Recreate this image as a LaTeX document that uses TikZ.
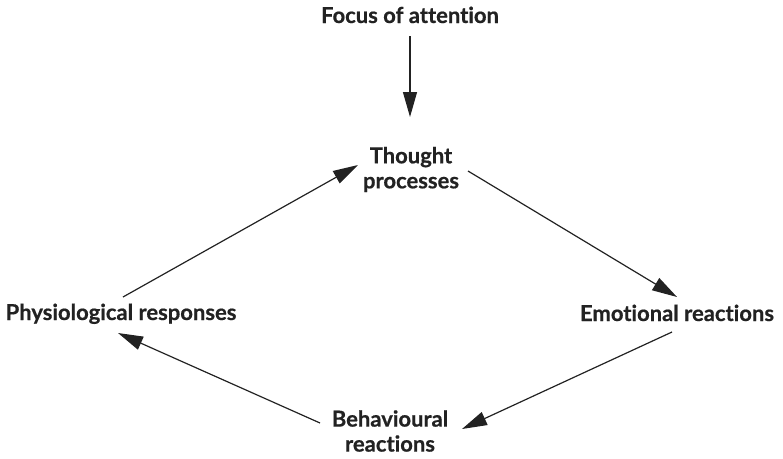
\documentclass[tikz,border=0pt]{standalone}
\usepackage{fontspec}
\setmainfont{Lato}[Ligatures=NoCommon, BoldFeatures={FakeBold=0.6}]
\usetikzlibrary{arrows.meta}
\definecolor{ink}{HTML}{222222}
\tikzset{
  label/.style={font=\bfseries\fontsize{22}{25}\selectfont, text=ink, align=center, inner sep=0pt},
  flow/.style={draw=ink, line width=1.2pt, -{Triangle[length=25pt,width=14pt]}}
}
\begin{document}
\begin{tikzpicture}[x=1pt,y=-1pt]
  \useasboundingbox (0,0) rectangle (783,458);
  % labels
  \node[label, anchor=base] (focus) at (410,23) {Focus of attention};
  \node[label] (thought) at (411,169.5) {Thought\\processes};
  \node[label, anchor=base] (phys) at (121,320) {Physiological responses};
  \node[label, anchor=base] (emo) at (677,321) {Emotional reactions};
  \node[label] (behav) at (390,431) {Behavioural\\reactions};
  % connector end points
  \coordinate (f1) at (410,36);
  \coordinate (f2) at (410,117);
  \coordinate (t1) at (468,171);
  \coordinate (e2) at (677,297);
  \coordinate (e1) at (672,332);
  \coordinate (b2) at (462,429);
  \coordinate (b1) at (320,423);
  \coordinate (p2) at (118,333);
  \coordinate (p1) at (123,297);
  \coordinate (t2) at (358,165);
  % the cycle
  \draw[flow] (f1) -- (f2);
  \draw[flow] (t1) -- (e2);
  \draw[flow] (e1) -- (b2);
  \draw[flow] (b1) -- (p2);
  \draw[flow] (p1) -- (t2);
\end{tikzpicture}
\end{document}
